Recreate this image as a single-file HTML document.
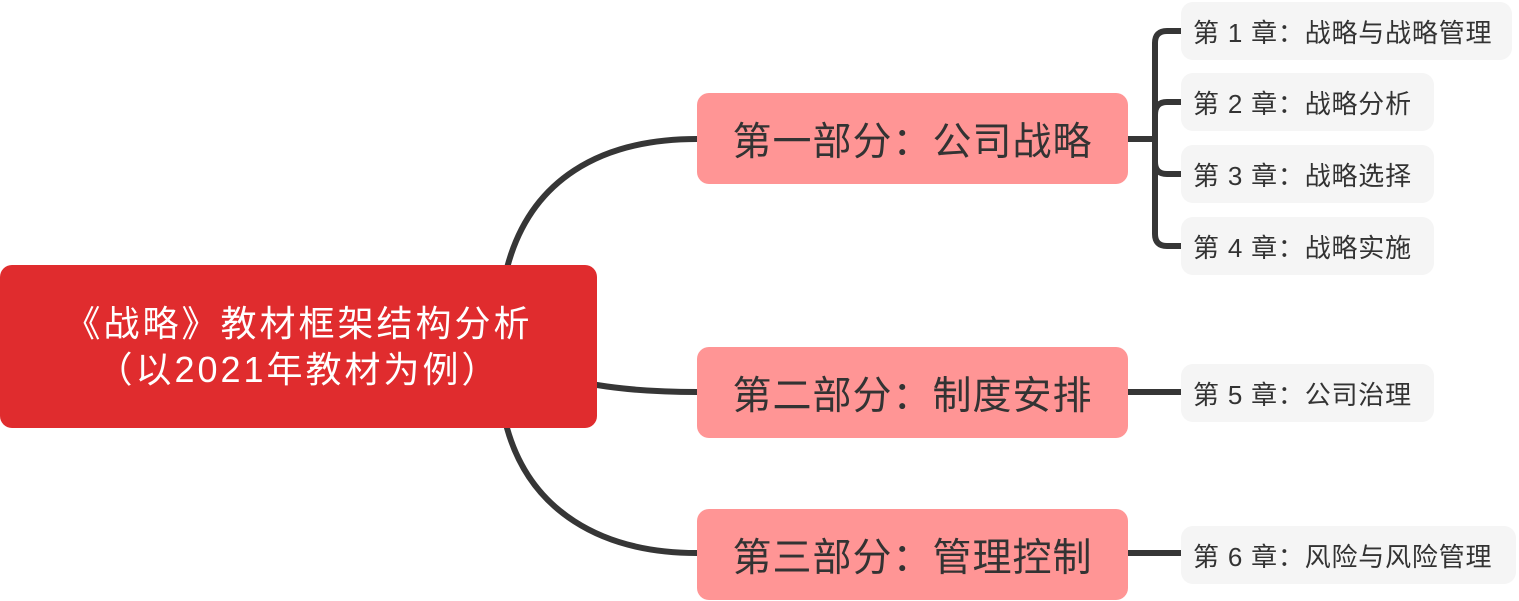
<!DOCTYPE html>
<html><head><meta charset="utf-8"><style>
body{margin:0;width:1519px;height:601px;background:#fff;position:relative;overflow:hidden;font-family:"Liberation Sans","Noto Sans CJK SC",sans-serif;}
.b{position:absolute;display:flex;align-items:center;justify-content:center;box-sizing:border-box;white-space:nowrap;}
.root{left:0;top:265px;width:597px;height:163px;background:#e02c2e;border-radius:12px;color:#fff;font-size:36px;letter-spacing:3px;line-height:46px;text-align:center;flex-direction:column;}
.mid{left:697px;width:431px;height:91px;background:#ff9595;border-radius:12px;color:#333;font-size:39px;letter-spacing:1px;}
.leaf{left:1181px;height:58px;background:#f5f5f5;border-radius:12px;color:#333;font-size:26px;justify-content:flex-start;padding-left:12px;letter-spacing:0.8px;}
</style></head><body>
<svg width="1519" height="601" style="position:absolute;left:0;top:0">
<g fill="none" stroke="#363636" stroke-width="6" stroke-linecap="round">
<path d="M507,268 C530,180 600,139 697,139"/>
<path d="M597,385 Q640,392 697,392"/>
<path d="M507,428 C530,510 600,553 697,553"/>
<path d="M1128,139 H1155"/>
<path d="M1181,31 H1167 Q1155,31 1155,43 V234 Q1155,246 1167,246 H1181"/>
<path d="M1155,115 Q1155,102 1167,102 H1181"/>
<path d="M1155,162 Q1155,174 1167,174 H1181"/>
<path d="M1128,392 H1181"/>
<path d="M1128,553 H1181"/>
</g></svg>
<div class="b root"><div>《战略》教材框架结构分析</div><div>（以2021年教材为例）</div></div>
<div class="b mid" style="top:93px">第一部分：公司战略</div>
<div class="b mid" style="top:347px">第二部分：制度安排</div>
<div class="b mid" style="top:509px">第三部分：管理控制</div>
<div class="b leaf" style="top:2px;width:331px">第 1 章：战略与战略管理</div>
<div class="b leaf" style="top:73px;width:253px">第 2 章：战略分析</div>
<div class="b leaf" style="top:145px;width:253px">第 3 章：战略选择</div>
<div class="b leaf" style="top:217px;width:253px">第 4 章：战略实施</div>
<div class="b leaf" style="top:364px;width:253px">第 5 章：公司治理</div>
<div class="b leaf" style="top:526px;width:335px">第 6 章：风险与风险管理</div>
</body></html>
